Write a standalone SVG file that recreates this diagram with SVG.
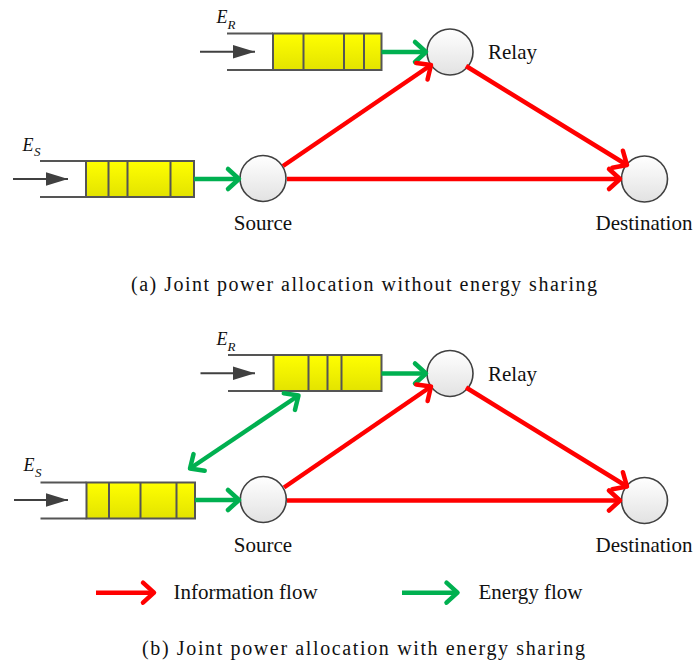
<svg xmlns="http://www.w3.org/2000/svg" width="699" height="671" viewBox="0 0 699 671">
<defs>
<linearGradient id="yel" x1="0" y1="0" x2="0" y2="1"><stop offset="0" stop-color="#ffff00"/><stop offset="1" stop-color="#e3e300"/></linearGradient>
<linearGradient id="node" x1="0" y1="0" x2="0" y2="1"><stop offset="0" stop-color="#ffffff"/><stop offset="1" stop-color="#e2e2e2"/></linearGradient>
<marker id="hr" viewBox="-15 -15 30 30" markerWidth="30" markerHeight="30" refX="0" refY="0" orient="auto-start-reverse" markerUnits="userSpaceOnUse"><path d="M-11,-10 L0,0 L-11,10" fill="none" stroke="#ff0000" stroke-width="4.5" stroke-linecap="round" stroke-linejoin="round"/></marker>
<marker id="hg" viewBox="-15 -15 30 30" markerWidth="30" markerHeight="30" refX="0" refY="0" orient="auto-start-reverse" markerUnits="userSpaceOnUse"><path d="M-11,-10 L0,0 L-11,10" fill="none" stroke="#00b050" stroke-width="4.5" stroke-linecap="round" stroke-linejoin="round"/></marker>
<marker id="hk" viewBox="-25 -10 30 20" markerWidth="30" markerHeight="20" refX="0" refY="0" orient="auto" markerUnits="userSpaceOnUse"><path d="M-22,-6.7 L0,0 L-22,6.7 Z" fill="#404040"/></marker>
</defs>
<style>
.ql{stroke:#555555;stroke-width:2;fill:none}
.qb{fill:url(#yel);stroke:#555555;stroke-width:2}
.qd{stroke:#555555;stroke-width:2}
.in{stroke:#404040;stroke-width:2;marker-end:url(#hk)}
.nd{fill:url(#node);stroke:#404040;stroke-width:1.6}
.r{stroke:#ff0000;stroke-width:4.5;fill:none;marker-end:url(#hr)}
.g{stroke:#00b050;stroke-width:4.5;fill:none;marker-end:url(#hg)}
.t{font-family:"Liberation Serif","Times New Roman",serif;font-size:21px;fill:#111111}
.e{font-family:"Liberation Serif","Times New Roman",serif;font-style:italic;fill:#111111}
.cap{font-family:"Liberation Serif","Times New Roman",serif;font-size:20px;fill:#111111}
</style>

<!-- Panel (a) -->
<g id="queueR_a">
<path class="ql" d="M227,33.5 H273 M227,70 H273"/>
<rect class="qb" x="273" y="33.5" width="108.5" height="36.5"/>
<path class="qd" d="M303.5,33.5 V70 M344,33.5 V70 M364,33.5 V70"/>
<line class="in" x1="200" y1="51.7" x2="255" y2="51.7"/>
<text class="e" x="216.5" y="23" font-size="18">E</text><text class="e" x="227.5" y="29" font-size="13">R</text>
</g>
<g id="queueS_a">
<path class="ql" d="M40,161 H86 M40,197 H86"/>
<rect class="qb" x="86" y="161" width="108" height="36"/>
<path class="qd" d="M108.5,161 V197 M127.5,161 V197 M170.5,161 V197"/>
<line class="in" x1="13" y1="179" x2="68" y2="179"/>
<text class="e" x="22.5" y="150.5" font-size="18">E</text><text class="e" x="34" y="156" font-size="13">S</text>
</g>
<g id="relay_a"><circle class="nd" cx="450" cy="52" r="23"/><text class="t" x="488" y="59">Relay</text></g>
<g id="source_a"><circle class="nd" cx="263" cy="178.5" r="23"/><text class="t" x="263" y="230" text-anchor="middle">Source</text></g>
<g id="dest_a"><circle class="nd" cx="644.5" cy="179" r="23"/><text class="t" x="644" y="230" text-anchor="middle">Destination</text></g>
<g id="connectors_a">
<line class="g" x1="381.5" y1="52" x2="426" y2="52"/>
<line class="g" x1="194" y1="179" x2="239" y2="179"/>
<line class="r" x1="283" y1="166" x2="431" y2="65"/>
<line class="r" x1="287" y1="179" x2="620" y2="179"/>
<line class="r" x1="466" y1="66" x2="627" y2="165"/>
</g>
<text class="cap" x="131" y="291" textLength="466" lengthAdjust="spacing">(a) Joint power allocation without energy sharing</text>

<!-- Panel (b) -->
<g id="queueR_b">
<path class="ql" d="M228,355 H273.5 M228,391 H273.5"/>
<rect class="qb" x="273.5" y="355" width="108" height="36"/>
<path class="qd" d="M308.5,355 V391 M327.5,355 V391 M341.5,355 V391"/>
<line class="in" x1="200.5" y1="373.3" x2="255" y2="373.3"/>
<text class="e" x="216.5" y="344.5" font-size="18">E</text><text class="e" x="227.5" y="350.5" font-size="13">R</text>
</g>
<g id="queueS_b">
<path class="ql" d="M40.5,482.5 H86.5 M40.5,518.5 H86.5"/>
<rect class="qb" x="86.5" y="482.5" width="108.5" height="36"/>
<path class="qd" d="M109,482.5 V518.5 M140.5,482.5 V518.5 M176.5,482.5 V518.5"/>
<line class="in" x1="14" y1="500" x2="68" y2="500"/>
<text class="e" x="23.5" y="471" font-size="18">E</text><text class="e" x="35" y="476.5" font-size="13">S</text>
</g>
<g id="relay_b"><circle class="nd" cx="450" cy="373.5" r="23"/><text class="t" x="488" y="380.5">Relay</text></g>
<g id="source_b"><circle class="nd" cx="263.3" cy="499.5" r="23"/><text class="t" x="263" y="551.5" text-anchor="middle">Source</text></g>
<g id="dest_b"><circle class="nd" cx="644.5" cy="500.5" r="23"/><text class="t" x="644" y="551.5" text-anchor="middle">Destination</text></g>
<g id="connectors_b">
<line class="g" x1="381.5" y1="373.5" x2="426" y2="373.5"/>
<line class="g" x1="195" y1="500" x2="239" y2="500"/>
<line class="g" x1="190" y1="468.5" x2="298.5" y2="395.5" marker-start="url(#hg)"/>
<line class="r" x1="284" y1="487.5" x2="431" y2="386.5"/>
<line class="r" x1="287" y1="500.5" x2="620" y2="500.5"/>
<line class="r" x1="466" y1="387.5" x2="627" y2="486.5"/>
</g>
<g id="legend">
<line class="r" x1="96" y1="592.7" x2="154" y2="592.7"/>
<text class="t" x="173.5" y="598.5" font-size="20.5">Information flow</text>
<line class="g" x1="402" y1="592.7" x2="457.5" y2="592.7"/>
<text class="t" x="478.5" y="598.5" font-size="20.5">Energy flow</text>
</g>
<text class="cap" x="142" y="655" textLength="443" lengthAdjust="spacing">(b) Joint power allocation with energy sharing</text>
</svg>
